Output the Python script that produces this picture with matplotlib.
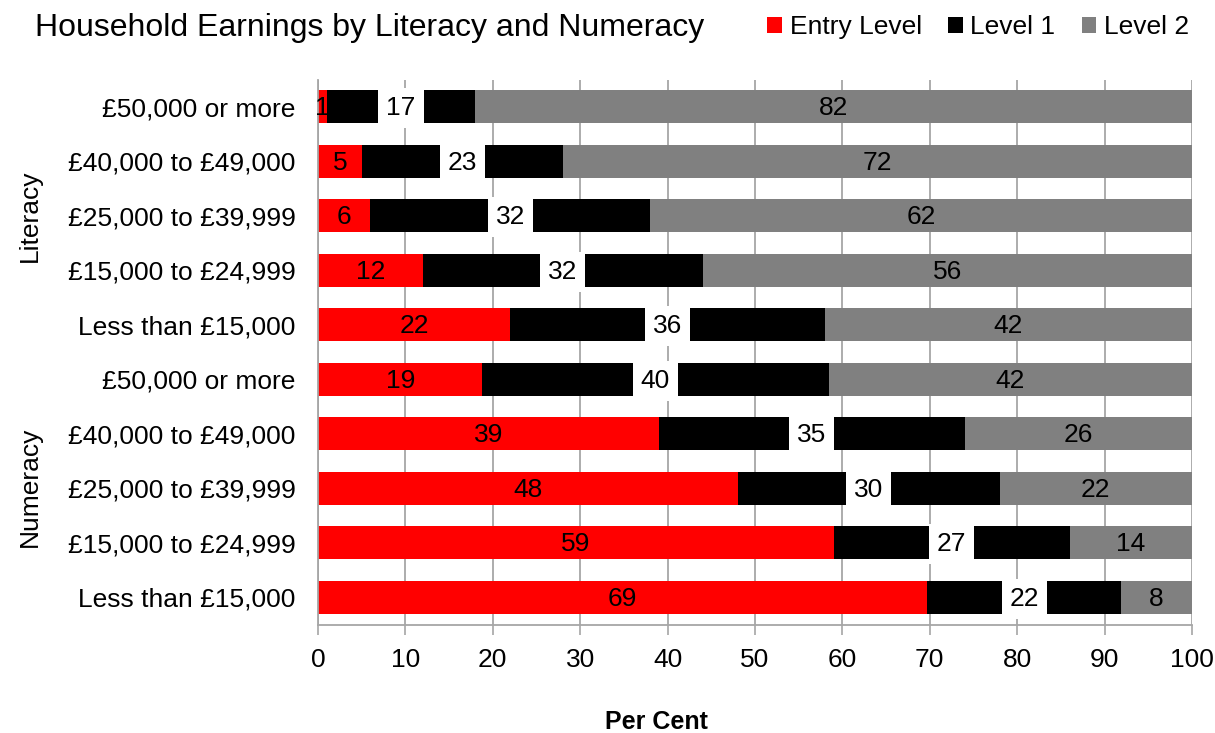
import numpy as np
import matplotlib
matplotlib.use("Agg")
import matplotlib.pyplot as plt

plt.rcParams["font.family"] = ["Liberation Sans", "DejaVu Sans"]

# Data (top row first)
categories = [
    "£50,000 or more", "£40,000 to £49,000", "£25,000 to £39,999",
    "£15,000 to £24,999", "Less than £15,000",
    "£50,000 or more", "£40,000 to £49,000", "£25,000 to £39,999",
    "£15,000 to £24,999", "Less than £15,000",
]
groups      = ["Literacy", "Numeracy"]
entry_level = [1, 5, 6, 12, 22, 19, 39, 48, 59, 69]
level_1     = [17, 23, 32, 32, 36, 40, 35, 30, 27, 22]
level_2     = [82, 72, 62, 56, 42, 42, 26, 22, 14, 8]

series = [("Entry Level", entry_level, "#FF0000"),
          ("Level 1",     level_1,     "#000000"),
          ("Level 2",     level_2,     "#808080")]

GRID = "#A6A6A6"

fig = plt.figure(figsize=(12.15, 7.33), dpi=100)
ax = fig.add_axes([318 / 1215, 1 - 624.5 / 733, 874 / 1215, 545 / 733])

y = np.arange(len(categories))
totals = np.array(entry_level) + np.array(level_1) + np.array(level_2)
left = np.zeros(len(categories))

for name, vals, color in series:
    vals = np.array(vals)
    width = vals / totals * 100
    ax.barh(y, width, left=left, height=0.6, color=color, label=name, zorder=2)
    for yi, l, w, v in zip(y, left, width, vals):
        cx = l + w / 2
        box = None
        if name == "Level 1":
            box = dict(facecolor="white", edgecolor="none",
                       boxstyle="square,pad=0.3")
        ax.text(cx, yi + 0.03, str(v), ha="center", va="center", fontsize=19,
                color="black", zorder=4, bbox=box)
    left = left + width

ax.set_xlim(0, 100)
ax.set_ylim(len(categories) - 0.5, -0.5)
ax.set_xticks(np.arange(0, 101, 10))
ax.set_yticks(y)
ax.set_yticklabels(categories, fontsize=19)
ax.tick_params(axis="y", length=0, pad=16)
ax.tick_params(axis="x", length=7, width=1.2, color=GRID, labelsize=19, pad=10)
ax.xaxis.grid(True, color=GRID, linewidth=1.3, zorder=0)
ax.set_axisbelow(True)
for s in ["top", "right"]:
    ax.spines[s].set_visible(False)
for s in ["left", "bottom"]:
    ax.spines[s].set_color(GRID)
    ax.spines[s].set_linewidth(1.3)

# group labels
fig.text(30 / 1215, 1 - 216 / 733, groups[0], rotation=90, ha="center",
         va="center", fontsize=19)
fig.text(30 / 1215, 1 - 487 / 733, groups[1], rotation=90, ha="center",
         va="center", fontsize=19)

fig.text(35 / 1215, 1 - 28 / 733, "Household Earnings by Literacy and Numeracy",
         ha="left", va="center", fontsize=23)
fig.text(656 / 1215, 1 - 722 / 733, "Per Cent", ha="center", va="center",
         fontsize=18, fontweight="bold")

fig.legend(loc="center right", bbox_to_anchor=(1200 / 1215, 1 - 27 / 733),
           ncol=3, frameon=False, fontsize=19, handlelength=0.55,
           handleheight=0.55, handletextpad=0.3, columnspacing=1.0,
           borderaxespad=0)

plt.savefig("out.png", dpi=100)
plt.close()
